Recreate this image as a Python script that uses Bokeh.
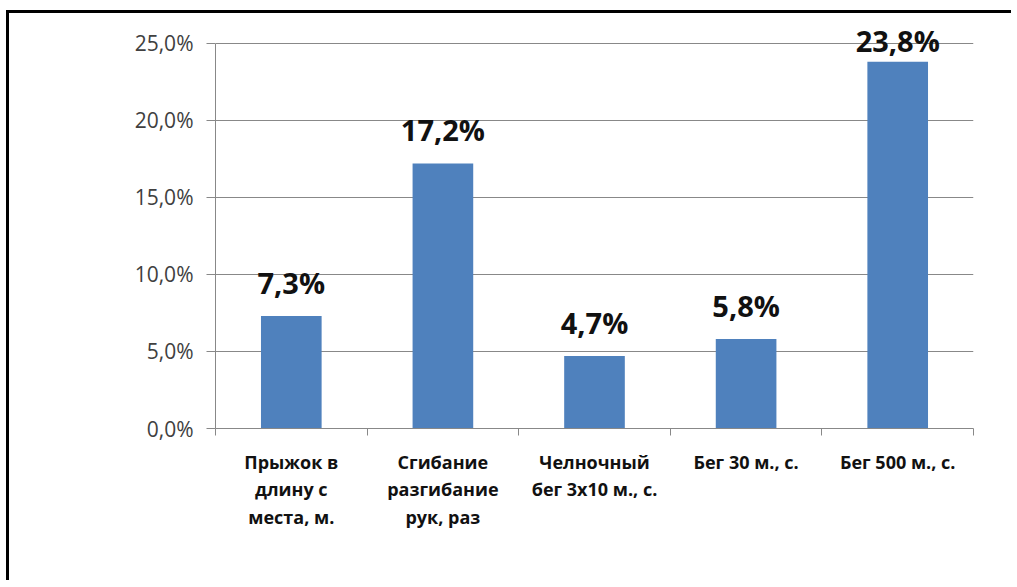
from bokeh.plotting import figure
from bokeh.models import ColumnDataSource, Range1d, FixedTicker, LabelSet, CustomJSTickFormatter
from bokeh.core.properties import value
from bokeh.embed import file_html
from bokeh.resources import INLINE

categories = ["Прыжок в\nдлину с\nместа, м.", "Сгибание\nразгибание\nрук, раз",
              "Челночный\nбег 3х10 м., с.", "Бег 30 м., с.", "Бег 500 м., с."]
values = [7.3, 17.2, 4.7, 5.8, 23.8]
value_labels = ["7,3%", "17,2%", "4,7%", "5,8%", "23,8%"]
y_ticks = [0, 5, 10, 15, 20, 25]

Y_MAX_AXIS = 25
PLOT_H_PX = 385.0           # pixel height of 0..25 on the value axis
px_per_unit = PLOT_H_PX / Y_MAX_AXIS
label_gap = 22              # label baseline gap above bar
label_ceiling = 376         # labels are kept inside the chart area (px above axis)
offsets = [min(label_gap, label_ceiling - v * px_per_unit) for v in values]

xs = [i + 0.5 for i in range(len(categories))]
src = ColumnDataSource(dict(x=xs, top=values, lab=value_labels, off=offsets))

p = figure(width=1005, height=570, output_backend="svg", toolbar_location=None,
           x_range=Range1d(0, len(categories)), y_range=Range1d(0, 26.8),
           min_border_left=206, min_border_right=41, min_border_top=2, min_border_bottom=155)
p.outline_line_color = None
p.styles = {"border-top": "3px solid black", "border-left": "3px solid black",
            "margin-top": "10px", "margin-left": "6px"}

p.vbar(x="x", top="top", width=0.4, source=src, color="#4F81BD", line_color=None)

labels = LabelSet(x="x", y="top", text="lab", source=src, text_align="center",
                  text_baseline="alphabetic", y_offset="off", text_font=value("Open Sans"),
                  text_font_style="bold", text_font_size="29px", text_color="#111111")
p.add_layout(labels)

# y axis
p.yaxis.bounds = (0, Y_MAX_AXIS)
p.yaxis.ticker = FixedTicker(ticks=y_ticks)
p.yaxis.formatter = CustomJSTickFormatter(code="return tick.toFixed(1).replace('.', ',') + '%';")
p.yaxis.axis_line_color = "#888888"
p.yaxis.major_tick_line_color = "#888888"
p.yaxis.major_tick_out = 9
p.yaxis.major_tick_in = 0
p.yaxis.minor_tick_line_color = None
p.yaxis.major_label_standoff = 13
p.yaxis.major_label_text_font = "Open Sans"
p.yaxis.major_label_text_font_size = "21px"
p.yaxis.major_label_text_color = "#404040"

# x axis
p.xaxis.ticker = FixedTicker(ticks=xs, minor_ticks=list(range(len(categories) + 1)))
p.xaxis.major_label_overrides = {x: c for x, c in zip(xs, categories)}
p.xaxis.axis_line_color = "#888888"
p.xaxis.major_tick_line_color = None
p.xaxis.minor_tick_line_color = "#888888"
p.xaxis.minor_tick_out = 7
p.xaxis.minor_tick_in = 0
p.xaxis.major_label_standoff = 14
p.xaxis.major_label_text_font = "Open Sans"
p.xaxis.major_label_text_font_style = "bold"
p.xaxis.major_label_text_font_size = "18px"
p.xaxis.major_label_text_color = "#111111"
p.xaxis.major_label_text_line_height = 1.15

p.xgrid.grid_line_color = None
p.ygrid.ticker = FixedTicker(ticks=y_ticks)
p.ygrid.grid_line_color = "#888888"

open("out.html", "w").write(file_html(p, INLINE))
